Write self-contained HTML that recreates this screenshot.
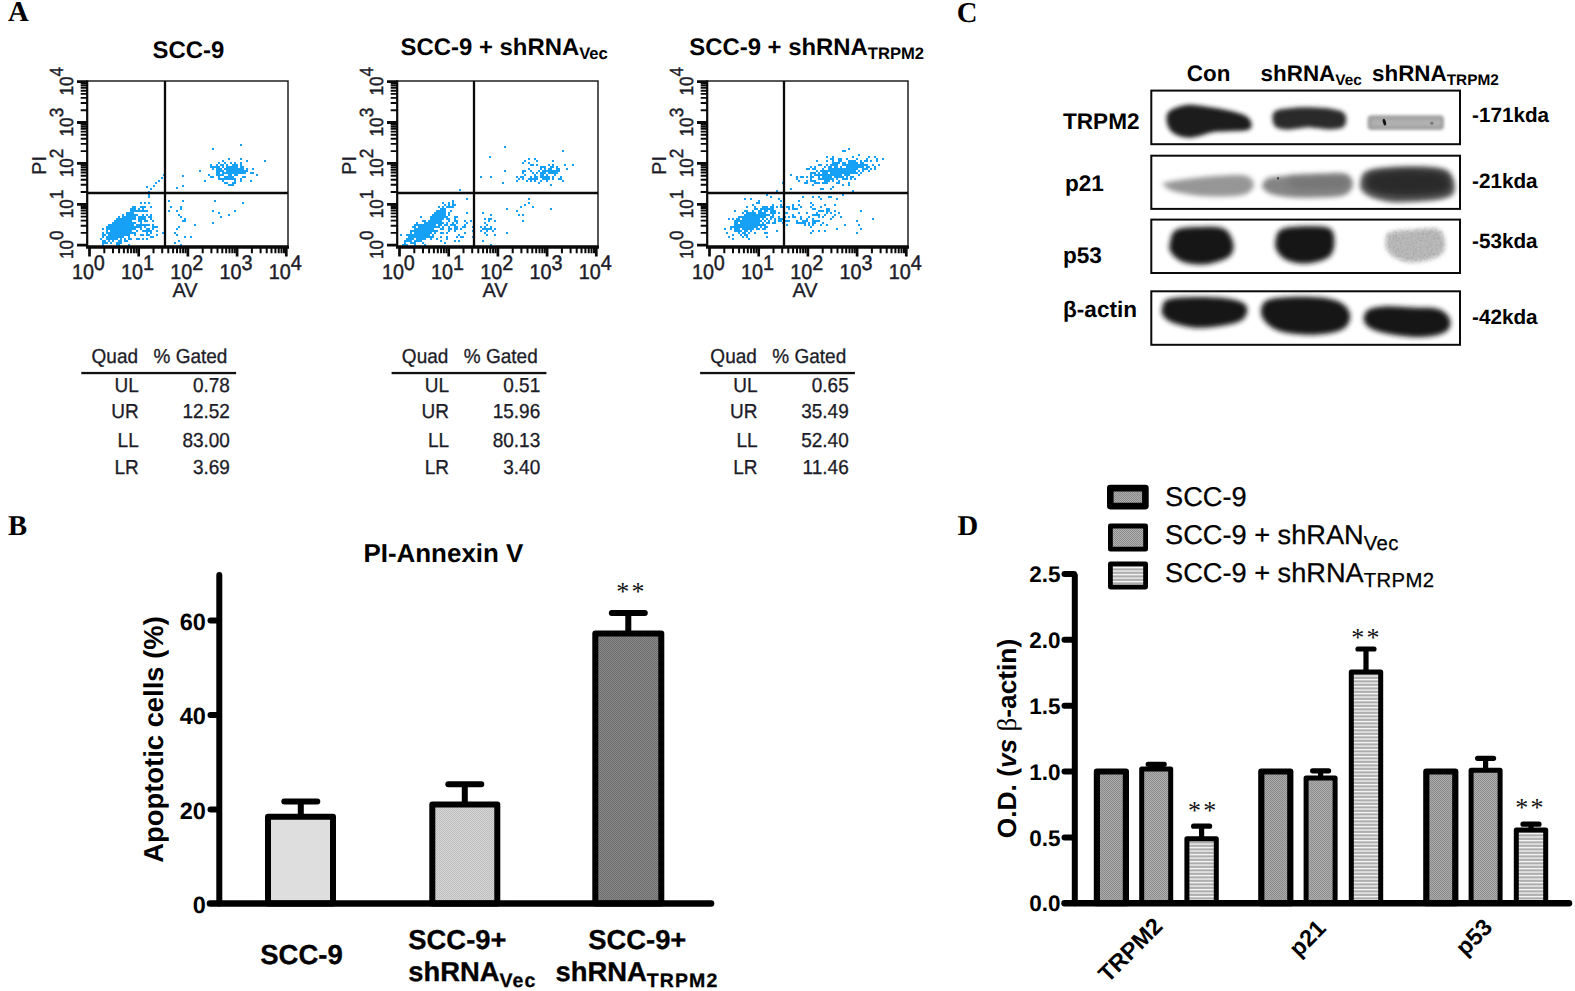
<!DOCTYPE html>
<html lang="en"><head><meta charset="utf-8"><title>Figure</title>
<style>html,body{margin:0;padding:0;background:#fff}svg{display:block}</style></head>
<body>
<svg width="1575" height="991" viewBox="0 0 1575 991" text-rendering="geometricPrecision">
<rect width="1575" height="991" fill="#fff"/>
<defs>
<pattern id="pDotL" width="2" height="2" patternUnits="userSpaceOnUse"><rect width="2" height="2" fill="#d8d8d8"/><rect width="1" height="1" fill="#bcbcbc"/><rect x="1" y="1" width="1" height="1" fill="#bcbcbc"/></pattern>
<pattern id="pDotD" width="2" height="2" patternUnits="userSpaceOnUse"><rect width="2" height="2" fill="#8a8a8a"/><rect width="1" height="1" fill="#6c6c6c"/><rect x="1" y="1" width="1" height="1" fill="#6c6c6c"/></pattern>
<pattern id="pDotM" width="2" height="2" patternUnits="userSpaceOnUse"><rect width="2" height="2" fill="#adadad"/><rect width="1" height="1" fill="#888"/><rect x="1" y="1" width="1" height="1" fill="#888"/></pattern>
<pattern id="pDotM2" width="2" height="2" patternUnits="userSpaceOnUse"><rect width="2" height="2" fill="#b0b0b0"/><rect width="1" height="1" fill="#8c8c8c"/><rect x="1" y="1" width="1" height="1" fill="#8c8c8c"/></pattern>
<pattern id="pHor" width="4" height="3.5" patternUnits="userSpaceOnUse"><rect width="4" height="3.5" fill="#b8b8b8"/><rect width="4" height="1.2" fill="#f6f6f6"/><rect y="2.1" width="4" height="0.6" fill="#9c9c9c"/></pattern>
<filter id="bd" x="-2%" y="-2%" width="104%" height="104%"><feGaussianBlur stdDeviation="0.4"/></filter>
<filter id="b05" x="-50%" y="-50%" width="200%" height="200%"><feGaussianBlur stdDeviation="0.7"/></filter>
<filter id="b15" x="-20%" y="-40%" width="140%" height="180%"><feGaussianBlur stdDeviation="2"/></filter>
<filter id="b2n" x="-20%" y="-40%" width="140%" height="180%"><feGaussianBlur stdDeviation="2.2" result="bl"/><feTurbulence type="fractalNoise" baseFrequency="0.45" numOctaves="2" seed="3" result="n"/><feColorMatrix in="n" type="matrix" values="0 0 0 0 0  0 0 0 0 0  0 0 0 0 0  1.6 0 0 0 -0.55" result="na"/><feComposite in="na" in2="bl" operator="in" result="spk"/><feFlood flood-color="#a2a2a2"/><feComposite in2="spk" operator="in" result="dk"/><feMerge><feMergeNode in="bl"/><feMergeNode in="dk"/></feMerge></filter>
<filter id="b1" x="-20%" y="-40%" width="140%" height="180%"><feGaussianBlur stdDeviation="1.6"/></filter>
<filter id="b2" x="-20%" y="-40%" width="140%" height="180%"><feGaussianBlur stdDeviation="2.6"/></filter>
<filter id="b3" x="-20%" y="-40%" width="140%" height="180%"><feGaussianBlur stdDeviation="3.6"/></filter>
</defs>
<text x="7.9" y="21.2" font-family='"Liberation Serif", "Times New Roman", serif' font-weight="bold" font-size="28.7" fill="#000">A</text>
<text x="7.9" y="535.0" font-family='"Liberation Serif", "Times New Roman", serif' font-weight="bold" font-size="28.7" fill="#000">B</text>
<text x="956.8" y="21.8" font-family='"Liberation Serif", "Times New Roman", serif' font-weight="bold" font-size="28.7" fill="#000">C</text>
<text x="957.5" y="535.0" font-family='"Liberation Serif", "Times New Roman", serif' font-weight="bold" font-size="28.7" fill="#000">D</text>
<path d="M116 224h2v2h-2zM130 224h2v2h-2zM126 220h2v2h-2zM114 230h2v2h-2zM120 234h2v2h-2zM112 226h2v2h-2zM118 220h2v2h-2zM120 232h2v2h-2zM120 218h2v2h-2zM106 238h2v2h-2zM130 220h2v2h-2zM114 224h2v2h-2zM122 224h2v2h-2zM118 228h2v2h-2zM118 222h2v2h-2zM122 220h2v2h-2zM122 234h2v2h-2zM120 220h2v2h-2zM116 236h2v2h-2zM108 236h2v2h-2zM124 228h2v2h-2zM116 232h2v2h-2zM110 242h2v2h-2zM110 228h2v2h-2zM118 234h2v2h-2zM112 234h2v2h-2zM110 236h2v2h-2zM128 228h2v2h-2zM118 230h2v2h-2zM114 232h2v2h-2zM120 224h2v2h-2zM122 222h2v2h-2zM126 224h2v2h-2zM116 228h2v2h-2zM122 228h2v2h-2zM120 226h2v2h-2zM106 228h2v2h-2zM116 234h2v2h-2zM112 232h2v2h-2zM104 234h2v2h-2zM124 234h2v2h-2zM126 230h2v2h-2zM118 236h2v2h-2zM128 220h2v2h-2zM118 216h2v2h-2zM116 242h2v2h-2zM128 232h2v2h-2zM120 222h2v2h-2zM108 238h2v2h-2zM124 230h2v2h-2zM114 226h2v2h-2zM114 228h2v2h-2zM124 220h2v2h-2zM126 228h2v2h-2zM136 224h2v2h-2zM110 238h2v2h-2zM122 232h2v2h-2zM108 228h2v2h-2zM128 222h2v2h-2zM114 238h2v2h-2zM124 216h2v2h-2zM128 212h2v2h-2zM106 236h2v2h-2zM112 230h2v2h-2zM112 222h2v2h-2zM122 226h2v2h-2zM116 220h2v2h-2zM108 234h2v2h-2zM130 222h2v2h-2zM124 226h2v2h-2zM134 218h2v2h-2zM118 232h2v2h-2zM122 214h2v2h-2zM138 216h2v2h-2zM112 228h2v2h-2zM118 224h2v2h-2zM126 222h2v2h-2zM122 218h2v2h-2zM104 240h2v2h-2zM124 224h2v2h-2zM110 226h2v2h-2zM120 230h2v2h-2zM112 236h2v2h-2zM108 240h2v2h-2zM132 218h2v2h-2zM124 232h2v2h-2zM116 226h2v2h-2zM124 222h2v2h-2zM122 230h2v2h-2zM112 238h2v2h-2zM130 228h2v2h-2zM108 224h2v2h-2zM116 238h2v2h-2zM124 218h2v2h-2zM120 228h2v2h-2zM114 236h2v2h-2zM106 232h2v2h-2zM134 222h2v2h-2zM118 218h2v2h-2zM106 230h2v2h-2zM126 232h2v2h-2zM116 230h2v2h-2zM130 232h2v2h-2zM118 226h2v2h-2zM104 242h2v2h-2zM126 226h2v2h-2zM132 222h2v2h-2zM116 218h2v2h-2zM130 218h2v2h-2zM128 230h2v2h-2zM120 236h2v2h-2zM132 216h2v2h-2zM126 216h2v2h-2zM110 234h2v2h-2zM108 232h2v2h-2zM128 224h2v2h-2zM102 232h2v2h-2zM130 226h2v2h-2zM120 238h2v2h-2zM110 224h2v2h-2zM112 240h2v2h-2zM142 208h2v2h-2zM142 216h2v2h-2zM130 230h2v2h-2zM140 218h2v2h-2zM132 228h2v2h-2zM114 234h2v2h-2zM130 214h2v2h-2zM128 226h2v2h-2zM126 218h2v2h-2zM102 244h2v2h-2zM100 238h2v2h-2zM128 218h2v2h-2zM110 232h2v2h-2zM106 242h2v2h-2zM130 216h2v2h-2zM118 242h2v2h-2zM102 240h2v2h-2zM124 240h2v2h-2zM124 238h2v2h-2zM114 220h2v2h-2zM128 214h2v2h-2zM122 236h2v2h-2zM138 220h2v2h-2zM102 228h2v2h-2zM112 224h2v2h-2zM102 236h2v2h-2zM122 216h2v2h-2zM110 230h2v2h-2zM120 242h2v2h-2zM106 226h2v2h-2zM118 240h2v2h-2zM116 222h2v2h-2zM102 234h2v2h-2zM132 224h2v2h-2zM120 240h2v2h-2zM154 226h2v2h-2zM114 222h2v2h-2zM102 242h2v2h-2zM128 244h2v2h-2zM116 244h2v2h-2zM118 244h2v2h-2zM134 226h2v2h-2zM146 220h2v2h-2zM142 218h2v2h-2zM130 238h2v2h-2zM132 226h2v2h-2zM126 240h2v2h-2zM128 236h2v2h-2zM128 238h2v2h-2zM108 226h2v2h-2zM138 218h2v2h-2zM142 214h2v2h-2zM140 220h2v2h-2zM134 228h2v2h-2zM132 232h2v2h-2zM128 234h2v2h-2zM126 234h2v2h-2zM146 214h2v2h-2zM138 210h2v2h-2zM132 210h2v2h-2zM132 212h2v2h-2zM126 212h2v2h-2zM128 216h2v2h-2zM130 210h2v2h-2zM134 216h2v2h-2zM132 214h2v2h-2zM130 208h2v2h-2zM140 216h2v2h-2zM132 206h2v2h-2zM134 214h2v2h-2zM132 208h2v2h-2zM136 210h2v2h-2zM126 214h2v2h-2zM134 210h2v2h-2zM134 208h2v2h-2zM130 212h2v2h-2zM134 206h2v2h-2zM136 214h2v2h-2zM148 228h2v2h-2zM134 234h2v2h-2zM150 232h2v2h-2zM138 224h2v2h-2zM152 224h2v2h-2zM156 230h2v2h-2zM136 226h2v2h-2zM138 226h2v2h-2zM148 230h2v2h-2zM146 224h2v2h-2zM146 228h2v2h-2zM148 234h2v2h-2zM148 224h2v2h-2zM156 226h2v2h-2zM144 226h2v2h-2zM134 232h2v2h-2zM140 226h2v2h-2zM136 238h2v2h-2zM152 236h2v2h-2zM142 230h2v2h-2zM140 222h2v2h-2zM140 228h2v2h-2zM144 230h2v2h-2zM140 224h2v2h-2zM146 230h2v2h-2zM150 218h2v2h-2zM144 224h2v2h-2zM156 234h2v2h-2zM150 236h2v2h-2zM140 234h2v2h-2zM138 238h2v2h-2zM144 220h2v2h-2zM142 238h2v2h-2zM152 228h2v2h-2zM144 218h2v2h-2zM152 220h2v2h-2zM146 238h2v2h-2zM150 230h2v2h-2zM146 234h2v2h-2zM162 232h2v2h-2zM150 216h2v2h-2zM152 226h2v2h-2zM146 232h2v2h-2zM142 234h2v2h-2zM142 224h2v2h-2zM136 230h2v2h-2zM144 202h2v2h-2zM150 206h2v2h-2zM138 208h2v2h-2zM142 206h2v2h-2zM150 214h2v2h-2zM146 186h2v2h-2zM146 210h2v2h-2zM148 216h2v2h-2zM142 210h2v2h-2zM148 196h2v2h-2zM144 206h2v2h-2zM144 210h2v2h-2zM148 194h2v2h-2zM140 206h2v2h-2zM144 216h2v2h-2zM148 202h2v2h-2zM140 210h2v2h-2zM140 202h2v2h-2zM148 191h2v2h-2zM150 188h2v2h-2zM153 185h2v2h-2zM155 182h2v2h-2zM158 180h2v2h-2zM161 177h2v2h-2zM163 174h2v2h-2zM182 200h2v2h-2zM184 220h2v2h-2zM182 220h2v2h-2zM174 232h2v2h-2zM168 210h2v2h-2zM190 236h2v2h-2zM180 244h2v2h-2zM184 236h2v2h-2zM178 214h2v2h-2zM164 238h2v2h-2zM170 206h2v2h-2zM194 224h2v2h-2zM174 242h2v2h-2zM178 226h2v2h-2zM168 200h2v2h-2zM176 234h2v2h-2zM178 240h2v2h-2zM180 216h2v2h-2zM180 206h2v2h-2zM176 210h2v2h-2zM176 228h2v2h-2zM184 218h2v2h-2zM180 208h2v2h-2zM242 202h2v2h-2zM220 216h2v2h-2zM234 210h2v2h-2zM218 212h2v2h-2zM228 214h2v2h-2zM212 210h2v2h-2zM214 200h2v2h-2zM226 182h2v2h-2zM212 222h2v2h-2zM234 172h2v2h-2zM228 168h2v2h-2zM222 166h2v2h-2zM232 170h2v2h-2zM222 180h2v2h-2zM230 170h2v2h-2zM242 170h2v2h-2zM210 164h2v2h-2zM234 178h2v2h-2zM234 164h2v2h-2zM222 172h2v2h-2zM234 166h2v2h-2zM226 170h2v2h-2zM242 166h2v2h-2zM218 172h2v2h-2zM236 166h2v2h-2zM228 172h2v2h-2zM220 174h2v2h-2zM228 174h2v2h-2zM238 170h2v2h-2zM216 166h2v2h-2zM228 176h2v2h-2zM226 178h2v2h-2zM246 170h2v2h-2zM220 164h2v2h-2zM240 166h2v2h-2zM214 166h2v2h-2zM230 174h2v2h-2zM234 170h2v2h-2zM224 182h2v2h-2zM212 176h2v2h-2zM216 170h2v2h-2zM244 176h2v2h-2zM234 180h2v2h-2zM222 178h2v2h-2zM222 160h2v2h-2zM218 166h2v2h-2zM242 176h2v2h-2zM250 180h2v2h-2zM232 166h2v2h-2zM240 178h2v2h-2zM250 172h2v2h-2zM208 174h2v2h-2zM236 172h2v2h-2zM236 168h2v2h-2zM224 162h2v2h-2zM234 174h2v2h-2zM224 176h2v2h-2zM230 162h2v2h-2zM216 168h2v2h-2zM238 172h2v2h-2zM224 168h2v2h-2zM246 168h2v2h-2zM236 164h2v2h-2zM228 178h2v2h-2zM220 168h2v2h-2zM240 158h2v2h-2zM216 172h2v2h-2zM230 172h2v2h-2zM238 168h2v2h-2zM226 172h2v2h-2zM240 172h2v2h-2zM224 172h2v2h-2zM204 180h2v2h-2zM218 162h2v2h-2zM230 178h2v2h-2zM244 170h2v2h-2zM218 168h2v2h-2zM252 172h2v2h-2zM234 182h2v2h-2zM228 170h2v2h-2zM236 174h2v2h-2zM240 170h2v2h-2zM242 168h2v2h-2zM226 164h2v2h-2zM230 166h2v2h-2zM212 166h2v2h-2zM230 168h2v2h-2zM244 172h2v2h-2zM212 168h2v2h-2zM224 178h2v2h-2zM218 170h2v2h-2zM226 168h2v2h-2zM232 176h2v2h-2zM218 178h2v2h-2zM232 164h2v2h-2zM220 178h2v2h-2zM228 166h2v2h-2zM240 168h2v2h-2zM222 174h2v2h-2zM236 170h2v2h-2zM240 162h2v2h-2zM230 184h2v2h-2zM226 176h2v2h-2zM232 182h2v2h-2zM234 168h2v2h-2zM220 170h2v2h-2zM234 162h2v2h-2zM232 172h2v2h-2zM256 174h2v2h-2zM222 164h2v2h-2zM216 164h2v2h-2zM216 174h2v2h-2zM232 168h2v2h-2zM232 178h2v2h-2zM232 184h2v2h-2zM222 170h2v2h-2zM240 180h2v2h-2zM226 166h2v2h-2zM230 176h2v2h-2zM264 160h2v2h-2zM210 166h2v2h-2zM228 158h2v2h-2zM246 160h2v2h-2zM218 176h2v2h-2zM240 164h2v2h-2zM218 174h2v2h-2zM210 176h2v2h-2zM252 168h2v2h-2zM242 172h2v2h-2zM228 184h2v2h-2zM212 148h2v2h-2zM240 144h2v2h-2zM199 170h2v2h-2zM182 175h2v2h-2zM182 185h2v2h-2zM176 187h2v2h-2z" fill="#12a0f6" filter="url(#bd)"/>
<rect x="87" y="81" width="201" height="165" fill="none" stroke="#111" stroke-width="1.4"/>
<path d="M87.3 80.5V247" stroke="#0a0a0a" stroke-width="2" fill="none"/>
<path d="M86 247.2H289" stroke="#0a0a0a" stroke-width="2.9" fill="none"/>
<path d="M165 81V246M87 193H288" stroke="#0a0a0a" stroke-width="2.3" fill="none"/>
<path d="M89.5 246V256.5M138.7 246V256.5M187.9 246V256.5M237.1 246V256.5M286.3 246V256.5" stroke="#0a0a0a" stroke-width="2.7"/>
<path d="M104.3 246V253.3M113.0 246V253.3M119.1 246V253.3M123.9 246V253.3M127.8 246V253.3M131.1 246V253.3M133.9 246V253.3M136.4 246V253.3M153.5 246V253.3M162.2 246V253.3M168.3 246V253.3M173.1 246V253.3M177.0 246V253.3M180.3 246V253.3M183.1 246V253.3M185.6 246V253.3M202.7 246V253.3M211.4 246V253.3M217.5 246V253.3M222.3 246V253.3M226.2 246V253.3M229.5 246V253.3M232.3 246V253.3M234.8 246V253.3M251.9 246V253.3M260.6 246V253.3M266.7 246V253.3M271.5 246V253.3M275.4 246V253.3M278.7 246V253.3M281.5 246V253.3M284.0 246V253.3" stroke="#0a0a0a" stroke-width="2"/>
<path d="M77 245.2H87M77 204.3H87M77 163.4H87M77 122.5H87M77 81.6H87" stroke="#0a0a0a" stroke-width="2.8"/>
<path d="M80.7 232.9H87M80.7 225.7H87M80.7 220.6H87M80.7 216.6H87M80.7 213.4H87M80.7 210.6H87M80.7 208.3H87M80.7 206.2H87M80.7 192.0H87M80.7 184.8H87M80.7 179.7H87M80.7 175.7H87M80.7 172.5H87M80.7 169.7H87M80.7 167.4H87M80.7 165.3H87M80.7 151.1H87M80.7 143.9H87M80.7 138.8H87M80.7 134.8H87M80.7 131.6H87M80.7 128.8H87M80.7 126.5H87M80.7 124.4H87M80.7 110.2H87M80.7 103.0H87M80.7 97.9H87M80.7 93.9H87M80.7 90.7H87M80.7 87.9H87M80.7 85.6H87M80.7 83.5H87" stroke="#0a0a0a" stroke-width="1.9"/>
<text transform="translate(71.9 279.2) scale(0.94 1)" font-family='"Liberation Sans", Arial, Helvetica, sans-serif' font-size="21" fill="#1c1c28" stroke="#1c1c28" stroke-width="0.45">10<tspan dy="-8.9">0</tspan></text>
<text transform="translate(73 259.1) rotate(-90) scale(0.9 1)" font-family='"Liberation Sans", Arial, Helvetica, sans-serif' font-size="19" fill="#1c1c28" stroke="#1c1c28" stroke-width="0.45">10<tspan dy="-9.7">0</tspan></text>
<text transform="translate(121.1 279.2) scale(0.94 1)" font-family='"Liberation Sans", Arial, Helvetica, sans-serif' font-size="21" fill="#1c1c28" stroke="#1c1c28" stroke-width="0.45">10<tspan dy="-8.9">1</tspan></text>
<text transform="translate(73 218.2) rotate(-90) scale(0.9 1)" font-family='"Liberation Sans", Arial, Helvetica, sans-serif' font-size="19" fill="#1c1c28" stroke="#1c1c28" stroke-width="0.45">10<tspan dy="-9.7">1</tspan></text>
<text transform="translate(170.3 279.2) scale(0.94 1)" font-family='"Liberation Sans", Arial, Helvetica, sans-serif' font-size="21" fill="#1c1c28" stroke="#1c1c28" stroke-width="0.45">10<tspan dy="-8.9">2</tspan></text>
<text transform="translate(73 177.3) rotate(-90) scale(0.9 1)" font-family='"Liberation Sans", Arial, Helvetica, sans-serif' font-size="19" fill="#1c1c28" stroke="#1c1c28" stroke-width="0.45">10<tspan dy="-9.7">2</tspan></text>
<text transform="translate(219.5 279.2) scale(0.94 1)" font-family='"Liberation Sans", Arial, Helvetica, sans-serif' font-size="21" fill="#1c1c28" stroke="#1c1c28" stroke-width="0.45">10<tspan dy="-8.9">3</tspan></text>
<text transform="translate(73 136.4) rotate(-90) scale(0.9 1)" font-family='"Liberation Sans", Arial, Helvetica, sans-serif' font-size="19" fill="#1c1c28" stroke="#1c1c28" stroke-width="0.45">10<tspan dy="-9.7">3</tspan></text>
<text transform="translate(268.7 279.2) scale(0.94 1)" font-family='"Liberation Sans", Arial, Helvetica, sans-serif' font-size="21" fill="#1c1c28" stroke="#1c1c28" stroke-width="0.45">10<tspan dy="-8.9">4</tspan></text>
<text transform="translate(73 95.5) rotate(-90) scale(0.9 1)" font-family='"Liberation Sans", Arial, Helvetica, sans-serif' font-size="19" fill="#1c1c28" stroke="#1c1c28" stroke-width="0.45">10<tspan dy="-9.7">4</tspan></text>
<text x="185" y="296.5" text-anchor="middle" font-family='"Liberation Sans", Arial, Helvetica, sans-serif' font-size="20" fill="#1c1c28" stroke="#1c1c28" stroke-width="0.3">AV</text>
<text transform="translate(45.5 165.5) rotate(-90)" text-anchor="middle" font-family='"Liberation Sans", Arial, Helvetica, sans-serif' font-size="20" fill="#1c1c28" stroke="#1c1c28" stroke-width="0.3">PI</text>
<text x="152.5" y="58.1" font-family='"Liberation Sans", Arial, Helvetica, sans-serif' font-weight="bold" font-size="23.9" fill="#000">SCC-9</text>
<path d="M436 218h2v2h-2zM424 234h2v2h-2zM418 224h2v2h-2zM408 238h2v2h-2zM424 228h2v2h-2zM426 232h2v2h-2zM420 234h2v2h-2zM420 226h2v2h-2zM430 226h2v2h-2zM420 232h2v2h-2zM414 232h2v2h-2zM428 220h2v2h-2zM426 236h2v2h-2zM438 222h2v2h-2zM420 224h2v2h-2zM416 224h2v2h-2zM424 230h2v2h-2zM418 232h2v2h-2zM422 228h2v2h-2zM418 234h2v2h-2zM418 230h2v2h-2zM430 238h2v2h-2zM428 234h2v2h-2zM426 228h2v2h-2zM430 236h2v2h-2zM422 238h2v2h-2zM436 238h2v2h-2zM406 238h2v2h-2zM422 226h2v2h-2zM450 228h2v2h-2zM408 236h2v2h-2zM432 226h2v2h-2zM406 234h2v2h-2zM434 226h2v2h-2zM432 224h2v2h-2zM412 236h2v2h-2zM422 232h2v2h-2zM426 230h2v2h-2zM424 232h2v2h-2zM404 244h2v2h-2zM426 222h2v2h-2zM414 228h2v2h-2zM420 236h2v2h-2zM416 230h2v2h-2zM422 234h2v2h-2zM414 224h2v2h-2zM414 236h2v2h-2zM426 224h2v2h-2zM420 238h2v2h-2zM418 228h2v2h-2zM416 232h2v2h-2zM422 220h2v2h-2zM432 228h2v2h-2zM412 230h2v2h-2zM406 244h2v2h-2zM408 234h2v2h-2zM424 226h2v2h-2zM412 234h2v2h-2zM432 230h2v2h-2zM420 216h2v2h-2zM426 234h2v2h-2zM410 236h2v2h-2zM402 244h2v2h-2zM418 240h2v2h-2zM428 236h2v2h-2zM434 224h2v2h-2zM430 228h2v2h-2zM418 236h2v2h-2zM412 238h2v2h-2zM414 230h2v2h-2zM442 218h2v2h-2zM436 222h2v2h-2zM418 226h2v2h-2zM420 230h2v2h-2zM414 240h2v2h-2zM416 234h2v2h-2zM430 230h2v2h-2zM406 240h2v2h-2zM420 228h2v2h-2zM410 234h2v2h-2zM428 224h2v2h-2zM410 238h2v2h-2zM414 242h2v2h-2zM438 226h2v2h-2zM428 232h2v2h-2zM416 228h2v2h-2zM420 240h2v2h-2zM430 224h2v2h-2zM412 226h2v2h-2zM436 230h2v2h-2zM424 236h2v2h-2zM410 242h2v2h-2zM432 236h2v2h-2zM428 226h2v2h-2zM422 242h2v2h-2zM434 232h2v2h-2zM432 234h2v2h-2zM430 232h2v2h-2zM410 240h2v2h-2zM422 230h2v2h-2zM416 240h2v2h-2zM410 230h2v2h-2zM414 234h2v2h-2zM430 220h2v2h-2zM416 222h2v2h-2zM404 240h2v2h-2zM416 238h2v2h-2zM432 218h2v2h-2zM410 232h2v2h-2zM426 226h2v2h-2zM414 244h2v2h-2zM424 244h2v2h-2zM424 238h2v2h-2zM422 224h2v2h-2zM428 230h2v2h-2zM430 222h2v2h-2zM418 238h2v2h-2zM440 224h2v2h-2zM404 242h2v2h-2zM424 224h2v2h-2zM412 242h2v2h-2zM434 230h2v2h-2zM438 216h2v2h-2zM424 222h2v2h-2zM422 236h2v2h-2zM438 224h2v2h-2zM400 234h2v2h-2zM440 228h2v2h-2zM416 236h2v2h-2zM442 222h2v2h-2zM408 240h2v2h-2zM436 226h2v2h-2zM428 228h2v2h-2zM414 226h2v2h-2zM440 216h2v2h-2zM448 212h2v2h-2zM440 214h2v2h-2zM442 212h2v2h-2zM442 210h2v2h-2zM438 214h2v2h-2zM434 220h2v2h-2zM432 220h2v2h-2zM438 220h2v2h-2zM450 210h2v2h-2zM432 214h2v2h-2zM448 202h2v2h-2zM438 218h2v2h-2zM430 216h2v2h-2zM444 204h2v2h-2zM442 208h2v2h-2zM446 206h2v2h-2zM442 206h2v2h-2zM444 208h2v2h-2zM446 218h2v2h-2zM434 216h2v2h-2zM442 216h2v2h-2zM428 222h2v2h-2zM436 210h2v2h-2zM442 214h2v2h-2zM448 218h2v2h-2zM434 218h2v2h-2zM440 212h2v2h-2zM438 206h2v2h-2zM452 200h2v2h-2zM444 212h2v2h-2zM440 218h2v2h-2zM434 214h2v2h-2zM436 214h2v2h-2zM432 222h2v2h-2zM430 218h2v2h-2zM434 212h2v2h-2zM434 222h2v2h-2zM438 212h2v2h-2zM436 216h2v2h-2zM444 216h2v2h-2zM436 212h2v2h-2zM440 222h2v2h-2zM440 220h2v2h-2zM440 210h2v2h-2zM448 204h2v2h-2zM436 220h2v2h-2zM452 206h2v2h-2zM438 210h2v2h-2zM452 202h2v2h-2zM424 220h2v2h-2zM440 208h2v2h-2zM446 216h2v2h-2zM454 204h2v2h-2zM432 216h2v2h-2zM444 214h2v2h-2zM448 206h2v2h-2zM448 214h2v2h-2zM444 210h2v2h-2zM452 204h2v2h-2zM442 202h2v2h-2zM450 206h2v2h-2zM444 242h2v2h-2zM454 218h2v2h-2zM450 224h2v2h-2zM440 232h2v2h-2zM446 232h2v2h-2zM456 228h2v2h-2zM456 236h2v2h-2zM446 224h2v2h-2zM454 226h2v2h-2zM470 220h2v2h-2zM454 230h2v2h-2zM472 236h2v2h-2zM456 220h2v2h-2zM466 212h2v2h-2zM464 224h2v2h-2zM454 240h2v2h-2zM448 228h2v2h-2zM464 232h2v2h-2zM456 216h2v2h-2zM464 226h2v2h-2zM454 228h2v2h-2zM446 222h2v2h-2zM448 220h2v2h-2zM444 224h2v2h-2zM442 226h2v2h-2zM464 220h2v2h-2zM446 238h2v2h-2zM462 226h2v2h-2zM456 222h2v2h-2zM454 216h2v2h-2zM440 236h2v2h-2zM440 240h2v2h-2zM460 228h2v2h-2zM448 226h2v2h-2zM448 230h2v2h-2zM442 228h2v2h-2zM472 226h2v2h-2zM458 240h2v2h-2zM462 236h2v2h-2zM454 220h2v2h-2zM466 198h2v2h-2zM452 224h2v2h-2zM442 232h2v2h-2zM452 222h2v2h-2zM466 222h2v2h-2zM458 234h2v2h-2zM456 226h2v2h-2zM454 224h2v2h-2zM460 236h2v2h-2zM446 236h2v2h-2zM472 230h2v2h-2zM484 226h2v2h-2zM482 228h2v2h-2zM490 228h2v2h-2zM486 228h2v2h-2zM480 226h2v2h-2zM482 212h2v2h-2zM494 220h2v2h-2zM492 230h2v2h-2zM484 228h2v2h-2zM488 220h2v2h-2zM484 222h2v2h-2zM480 230h2v2h-2zM490 218h2v2h-2zM486 234h2v2h-2zM488 228h2v2h-2zM490 214h2v2h-2zM490 244h2v2h-2zM490 226h2v2h-2zM484 218h2v2h-2zM486 230h2v2h-2zM484 232h2v2h-2zM482 240h2v2h-2zM494 234h2v2h-2zM486 224h2v2h-2zM494 228h2v2h-2zM520 206h2v2h-2zM522 214h2v2h-2zM524 204h2v2h-2zM506 232h2v2h-2zM516 210h2v2h-2zM518 214h2v2h-2zM522 220h2v2h-2zM506 208h2v2h-2zM488 218h2v2h-2zM528 202h2v2h-2zM528 198h2v2h-2zM546 180h2v2h-2zM532 206h2v2h-2zM550 208h2v2h-2zM534 178h2v2h-2zM548 168h2v2h-2zM546 176h2v2h-2zM530 180h2v2h-2zM556 172h2v2h-2zM544 170h2v2h-2zM558 168h2v2h-2zM554 172h2v2h-2zM540 174h2v2h-2zM544 172h2v2h-2zM536 176h2v2h-2zM536 178h2v2h-2zM542 178h2v2h-2zM548 170h2v2h-2zM556 170h2v2h-2zM532 164h2v2h-2zM550 170h2v2h-2zM544 176h2v2h-2zM554 170h2v2h-2zM540 172h2v2h-2zM556 168h2v2h-2zM534 176h2v2h-2zM550 168h2v2h-2zM528 168h2v2h-2zM532 178h2v2h-2zM542 174h2v2h-2zM542 170h2v2h-2zM540 168h2v2h-2zM524 174h2v2h-2zM530 170h2v2h-2zM548 172h2v2h-2zM532 172h2v2h-2zM546 170h2v2h-2zM544 166h2v2h-2zM552 164h2v2h-2zM538 182h2v2h-2zM556 166h2v2h-2zM540 176h2v2h-2zM560 178h2v2h-2zM552 170h2v2h-2zM548 178h2v2h-2zM554 174h2v2h-2zM530 176h2v2h-2zM540 180h2v2h-2zM550 172h2v2h-2zM534 174h2v2h-2zM534 180h2v2h-2zM518 178h2v2h-2zM558 178h2v2h-2zM552 176h2v2h-2zM528 178h2v2h-2zM558 170h2v2h-2zM546 174h2v2h-2zM552 172h2v2h-2zM542 176h2v2h-2zM560 176h2v2h-2zM542 166h2v2h-2zM544 168h2v2h-2zM544 178h2v2h-2zM552 166h2v2h-2zM548 176h2v2h-2zM522 172h2v2h-2zM542 172h2v2h-2zM536 172h2v2h-2zM536 160h2v2h-2zM504 170h2v2h-2zM520 176h2v2h-2zM502 182h2v2h-2zM528 162h2v2h-2zM546 178h2v2h-2zM572 164h2v2h-2zM524 160h2v2h-2zM536 164h2v2h-2zM528 158h2v2h-2zM490 176h2v2h-2zM524 170h2v2h-2zM522 162h2v2h-2zM540 166h2v2h-2zM516 180h2v2h-2zM550 184h2v2h-2zM534 158h2v2h-2zM522 178h2v2h-2zM526 180h2v2h-2zM530 164h2v2h-2zM552 178h2v2h-2zM562 180h2v2h-2zM538 170h2v2h-2zM552 160h2v2h-2zM522 176h2v2h-2zM550 166h2v2h-2zM516 176h2v2h-2zM530 178h2v2h-2zM522 170h2v2h-2zM564 164h2v2h-2zM562 150h2v2h-2zM548 164h2v2h-2zM566 168h2v2h-2zM504 146h2v2h-2zM489 156h2v2h-2zM480 176h2v2h-2zM473 178h2v2h-2zM459 189h2v2h-2z" fill="#12a0f6" filter="url(#bd)"/>
<rect x="397" y="81" width="201" height="165" fill="none" stroke="#111" stroke-width="1.4"/>
<path d="M397.3 80.5V247" stroke="#0a0a0a" stroke-width="2" fill="none"/>
<path d="M396 247.2H599" stroke="#0a0a0a" stroke-width="2.9" fill="none"/>
<path d="M474 81V246M397 193H598" stroke="#0a0a0a" stroke-width="2.3" fill="none"/>
<path d="M399.5 246V256.5M448.7 246V256.5M497.9 246V256.5M547.1 246V256.5M596.3 246V256.5" stroke="#0a0a0a" stroke-width="2.7"/>
<path d="M414.3 246V253.3M423.0 246V253.3M429.1 246V253.3M433.9 246V253.3M437.8 246V253.3M441.1 246V253.3M443.9 246V253.3M446.4 246V253.3M463.5 246V253.3M472.2 246V253.3M478.3 246V253.3M483.1 246V253.3M487.0 246V253.3M490.3 246V253.3M493.1 246V253.3M495.6 246V253.3M512.7 246V253.3M521.4 246V253.3M527.5 246V253.3M532.3 246V253.3M536.2 246V253.3M539.5 246V253.3M542.3 246V253.3M544.8 246V253.3M561.9 246V253.3M570.6 246V253.3M576.7 246V253.3M581.5 246V253.3M585.4 246V253.3M588.7 246V253.3M591.5 246V253.3M594.0 246V253.3" stroke="#0a0a0a" stroke-width="2"/>
<path d="M387 245.2H397M387 204.3H397M387 163.4H397M387 122.5H397M387 81.6H397" stroke="#0a0a0a" stroke-width="2.8"/>
<path d="M390.7 232.9H397M390.7 225.7H397M390.7 220.6H397M390.7 216.6H397M390.7 213.4H397M390.7 210.6H397M390.7 208.3H397M390.7 206.2H397M390.7 192.0H397M390.7 184.8H397M390.7 179.7H397M390.7 175.7H397M390.7 172.5H397M390.7 169.7H397M390.7 167.4H397M390.7 165.3H397M390.7 151.1H397M390.7 143.9H397M390.7 138.8H397M390.7 134.8H397M390.7 131.6H397M390.7 128.8H397M390.7 126.5H397M390.7 124.4H397M390.7 110.2H397M390.7 103.0H397M390.7 97.9H397M390.7 93.9H397M390.7 90.7H397M390.7 87.9H397M390.7 85.6H397M390.7 83.5H397" stroke="#0a0a0a" stroke-width="1.9"/>
<text transform="translate(381.9 279.2) scale(0.94 1)" font-family='"Liberation Sans", Arial, Helvetica, sans-serif' font-size="21" fill="#1c1c28" stroke="#1c1c28" stroke-width="0.45">10<tspan dy="-8.9">0</tspan></text>
<text transform="translate(383 259.1) rotate(-90) scale(0.9 1)" font-family='"Liberation Sans", Arial, Helvetica, sans-serif' font-size="19" fill="#1c1c28" stroke="#1c1c28" stroke-width="0.45">10<tspan dy="-9.7">0</tspan></text>
<text transform="translate(431.1 279.2) scale(0.94 1)" font-family='"Liberation Sans", Arial, Helvetica, sans-serif' font-size="21" fill="#1c1c28" stroke="#1c1c28" stroke-width="0.45">10<tspan dy="-8.9">1</tspan></text>
<text transform="translate(383 218.2) rotate(-90) scale(0.9 1)" font-family='"Liberation Sans", Arial, Helvetica, sans-serif' font-size="19" fill="#1c1c28" stroke="#1c1c28" stroke-width="0.45">10<tspan dy="-9.7">1</tspan></text>
<text transform="translate(480.3 279.2) scale(0.94 1)" font-family='"Liberation Sans", Arial, Helvetica, sans-serif' font-size="21" fill="#1c1c28" stroke="#1c1c28" stroke-width="0.45">10<tspan dy="-8.9">2</tspan></text>
<text transform="translate(383 177.3) rotate(-90) scale(0.9 1)" font-family='"Liberation Sans", Arial, Helvetica, sans-serif' font-size="19" fill="#1c1c28" stroke="#1c1c28" stroke-width="0.45">10<tspan dy="-9.7">2</tspan></text>
<text transform="translate(529.5 279.2) scale(0.94 1)" font-family='"Liberation Sans", Arial, Helvetica, sans-serif' font-size="21" fill="#1c1c28" stroke="#1c1c28" stroke-width="0.45">10<tspan dy="-8.9">3</tspan></text>
<text transform="translate(383 136.4) rotate(-90) scale(0.9 1)" font-family='"Liberation Sans", Arial, Helvetica, sans-serif' font-size="19" fill="#1c1c28" stroke="#1c1c28" stroke-width="0.45">10<tspan dy="-9.7">3</tspan></text>
<text transform="translate(578.7 279.2) scale(0.94 1)" font-family='"Liberation Sans", Arial, Helvetica, sans-serif' font-size="21" fill="#1c1c28" stroke="#1c1c28" stroke-width="0.45">10<tspan dy="-8.9">4</tspan></text>
<text transform="translate(383 95.5) rotate(-90) scale(0.9 1)" font-family='"Liberation Sans", Arial, Helvetica, sans-serif' font-size="19" fill="#1c1c28" stroke="#1c1c28" stroke-width="0.45">10<tspan dy="-9.7">4</tspan></text>
<text x="495" y="296.5" text-anchor="middle" font-family='"Liberation Sans", Arial, Helvetica, sans-serif' font-size="20" fill="#1c1c28" stroke="#1c1c28" stroke-width="0.3">AV</text>
<text transform="translate(355.5 165.5) rotate(-90)" text-anchor="middle" font-family='"Liberation Sans", Arial, Helvetica, sans-serif' font-size="20" fill="#1c1c28" stroke="#1c1c28" stroke-width="0.3">PI</text>
<text x="400.6" y="55.2" font-family='"Liberation Sans", Arial, Helvetica, sans-serif' font-weight="bold" font-size="23.9" fill="#000">SCC-9 + shRNA<tspan dy="3.5" font-size="16.6">Vec</tspan></text>
<path d="M760 212h2v2h-2zM734 224h2v2h-2zM744 226h2v2h-2zM742 222h2v2h-2zM750 220h2v2h-2zM746 218h2v2h-2zM734 222h2v2h-2zM732 226h2v2h-2zM748 218h2v2h-2zM758 212h2v2h-2zM760 216h2v2h-2zM746 222h2v2h-2zM752 218h2v2h-2zM740 220h2v2h-2zM754 208h2v2h-2zM756 222h2v2h-2zM748 228h2v2h-2zM756 218h2v2h-2zM754 226h2v2h-2zM744 218h2v2h-2zM750 216h2v2h-2zM750 224h2v2h-2zM744 222h2v2h-2zM752 210h2v2h-2zM744 220h2v2h-2zM738 226h2v2h-2zM762 214h2v2h-2zM758 214h2v2h-2zM748 222h2v2h-2zM752 224h2v2h-2zM736 222h2v2h-2zM752 220h2v2h-2zM750 226h2v2h-2zM746 228h2v2h-2zM740 230h2v2h-2zM754 212h2v2h-2zM744 228h2v2h-2zM754 216h2v2h-2zM744 224h2v2h-2zM736 224h2v2h-2zM746 216h2v2h-2zM756 220h2v2h-2zM738 230h2v2h-2zM738 224h2v2h-2zM748 220h2v2h-2zM750 222h2v2h-2zM746 220h2v2h-2zM742 236h2v2h-2zM746 224h2v2h-2zM756 216h2v2h-2zM758 220h2v2h-2zM752 216h2v2h-2zM744 232h2v2h-2zM752 226h2v2h-2zM742 226h2v2h-2zM746 234h2v2h-2zM750 218h2v2h-2zM750 214h2v2h-2zM748 214h2v2h-2zM742 228h2v2h-2zM754 218h2v2h-2zM738 216h2v2h-2zM758 222h2v2h-2zM726 232h2v2h-2zM762 222h2v2h-2zM740 224h2v2h-2zM756 214h2v2h-2zM746 212h2v2h-2zM732 234h2v2h-2zM746 226h2v2h-2zM748 224h2v2h-2zM728 236h2v2h-2zM762 212h2v2h-2zM738 232h2v2h-2zM736 226h2v2h-2zM754 224h2v2h-2zM742 220h2v2h-2zM752 214h2v2h-2zM742 218h2v2h-2zM752 212h2v2h-2zM736 220h2v2h-2zM736 230h2v2h-2zM758 224h2v2h-2zM740 226h2v2h-2zM762 216h2v2h-2zM756 228h2v2h-2zM730 228h2v2h-2zM752 222h2v2h-2zM756 224h2v2h-2zM742 216h2v2h-2zM760 210h2v2h-2zM744 230h2v2h-2zM758 216h2v2h-2zM762 218h2v2h-2zM740 222h2v2h-2zM762 208h2v2h-2zM758 218h2v2h-2zM760 208h2v2h-2zM750 212h2v2h-2zM734 228h2v2h-2zM754 220h2v2h-2zM740 234h2v2h-2zM760 220h2v2h-2zM764 210h2v2h-2zM770 210h2v2h-2zM738 218h2v2h-2zM748 212h2v2h-2zM738 228h2v2h-2zM750 228h2v2h-2zM746 214h2v2h-2zM764 212h2v2h-2zM754 222h2v2h-2zM764 206h2v2h-2zM742 224h2v2h-2zM742 232h2v2h-2zM752 204h2v2h-2zM744 216h2v2h-2zM772 216h2v2h-2zM764 214h2v2h-2zM736 228h2v2h-2zM760 224h2v2h-2zM724 228h2v2h-2zM744 214h2v2h-2zM764 208h2v2h-2zM734 220h2v2h-2zM756 226h2v2h-2zM730 226h2v2h-2zM748 226h2v2h-2zM734 230h2v2h-2zM748 216h2v2h-2zM734 226h2v2h-2zM760 214h2v2h-2zM750 230h2v2h-2zM754 214h2v2h-2zM742 212h2v2h-2zM772 212h2v2h-2zM744 234h2v2h-2zM786 212h2v2h-2zM774 212h2v2h-2zM776 206h2v2h-2zM772 210h2v2h-2zM762 206h2v2h-2zM748 238h2v2h-2zM768 214h2v2h-2zM764 216h2v2h-2zM768 208h2v2h-2zM744 210h2v2h-2zM782 192h2v2h-2zM752 228h2v2h-2zM766 214h2v2h-2zM772 222h2v2h-2zM760 226h2v2h-2zM732 218h2v2h-2zM762 228h2v2h-2zM756 208h2v2h-2zM766 226h2v2h-2zM754 206h2v2h-2zM764 224h2v2h-2zM766 208h2v2h-2zM762 224h2v2h-2zM748 232h2v2h-2zM756 202h2v2h-2zM772 208h2v2h-2zM770 208h2v2h-2zM766 236h2v2h-2zM778 198h2v2h-2zM768 220h2v2h-2zM746 206h2v2h-2zM778 220h2v2h-2zM758 200h2v2h-2zM764 220h2v2h-2zM772 206h2v2h-2zM766 218h2v2h-2zM750 198h2v2h-2zM774 220h2v2h-2zM746 236h2v2h-2zM734 210h2v2h-2zM774 222h2v2h-2zM758 210h2v2h-2zM766 194h2v2h-2zM764 228h2v2h-2zM770 216h2v2h-2zM770 212h2v2h-2zM778 216h2v2h-2zM754 232h2v2h-2zM740 216h2v2h-2zM772 204h2v2h-2zM770 218h2v2h-2zM774 210h2v2h-2zM744 198h2v2h-2zM766 222h2v2h-2zM746 210h2v2h-2zM764 232h2v2h-2zM746 230h2v2h-2zM766 206h2v2h-2zM736 218h2v2h-2zM732 238h2v2h-2zM782 218h2v2h-2zM758 228h2v2h-2zM770 206h2v2h-2zM776 190h2v2h-2zM780 200h2v2h-2zM764 226h2v2h-2zM792 204h2v2h-2zM766 232h2v2h-2zM780 206h2v2h-2zM738 220h2v2h-2zM778 212h2v2h-2zM728 218h2v2h-2zM784 212h2v2h-2zM774 218h2v2h-2zM788 206h2v2h-2zM770 196h2v2h-2zM758 202h2v2h-2zM772 214h2v2h-2zM768 222h2v2h-2zM766 210h2v2h-2zM778 218h2v2h-2zM808 216h2v2h-2zM818 230h2v2h-2zM836 198h2v2h-2zM824 204h2v2h-2zM818 220h2v2h-2zM810 232h2v2h-2zM784 216h2v2h-2zM798 212h2v2h-2zM782 206h2v2h-2zM802 196h2v2h-2zM826 208h2v2h-2zM826 212h2v2h-2zM824 214h2v2h-2zM826 224h2v2h-2zM804 224h2v2h-2zM812 230h2v2h-2zM810 226h2v2h-2zM800 222h2v2h-2zM798 204h2v2h-2zM828 210h2v2h-2zM794 208h2v2h-2zM830 212h2v2h-2zM812 222h2v2h-2zM794 216h2v2h-2zM820 210h2v2h-2zM818 210h2v2h-2zM782 222h2v2h-2zM796 220h2v2h-2zM812 204h2v2h-2zM776 230h2v2h-2zM792 216h2v2h-2zM818 196h2v2h-2zM788 216h2v2h-2zM780 204h2v2h-2zM784 220h2v2h-2zM802 220h2v2h-2zM780 220h2v2h-2zM806 220h2v2h-2zM818 216h2v2h-2zM834 214h2v2h-2zM800 206h2v2h-2zM834 204h2v2h-2zM818 214h2v2h-2zM804 222h2v2h-2zM810 180h2v2h-2zM834 210h2v2h-2zM830 196h2v2h-2zM822 222h2v2h-2zM808 222h2v2h-2zM820 198h2v2h-2zM812 224h2v2h-2zM812 214h2v2h-2zM840 216h2v2h-2zM788 220h2v2h-2zM806 212h2v2h-2zM788 208h2v2h-2zM822 210h2v2h-2zM828 196h2v2h-2zM798 200h2v2h-2zM824 230h2v2h-2zM810 202h2v2h-2zM812 218h2v2h-2zM814 220h2v2h-2zM806 218h2v2h-2zM812 196h2v2h-2zM800 218h2v2h-2zM786 224h2v2h-2zM808 224h2v2h-2zM790 188h2v2h-2zM816 212h2v2h-2zM828 208h2v2h-2zM786 220h2v2h-2zM792 206h2v2h-2zM814 222h2v2h-2zM836 228h2v2h-2zM822 216h2v2h-2zM814 208h2v2h-2zM802 192h2v2h-2zM800 216h2v2h-2zM816 220h2v2h-2zM816 214h2v2h-2zM812 220h2v2h-2zM798 222h2v2h-2zM780 218h2v2h-2zM792 214h2v2h-2zM802 222h2v2h-2zM786 206h2v2h-2zM814 214h2v2h-2zM804 220h2v2h-2zM812 208h2v2h-2zM820 206h2v2h-2zM810 206h2v2h-2zM830 218h2v2h-2zM796 208h2v2h-2zM796 222h2v2h-2zM826 210h2v2h-2zM792 208h2v2h-2zM860 210h2v2h-2zM838 212h2v2h-2zM844 224h2v2h-2zM858 224h2v2h-2zM872 218h2v2h-2zM820 224h2v2h-2zM860 228h2v2h-2zM856 220h2v2h-2zM856 232h2v2h-2zM832 216h2v2h-2zM840 168h2v2h-2zM818 176h2v2h-2zM844 168h2v2h-2zM852 156h2v2h-2zM842 164h2v2h-2zM820 170h2v2h-2zM828 166h2v2h-2zM848 162h2v2h-2zM818 164h2v2h-2zM834 174h2v2h-2zM854 164h2v2h-2zM834 166h2v2h-2zM830 168h2v2h-2zM850 168h2v2h-2zM862 170h2v2h-2zM844 170h2v2h-2zM822 176h2v2h-2zM816 174h2v2h-2zM814 172h2v2h-2zM838 174h2v2h-2zM852 170h2v2h-2zM802 176h2v2h-2zM836 164h2v2h-2zM830 170h2v2h-2zM846 174h2v2h-2zM846 170h2v2h-2zM854 170h2v2h-2zM876 160h2v2h-2zM828 176h2v2h-2zM826 178h2v2h-2zM822 172h2v2h-2zM850 170h2v2h-2zM842 170h2v2h-2zM860 160h2v2h-2zM854 172h2v2h-2zM852 162h2v2h-2zM830 174h2v2h-2zM834 168h2v2h-2zM830 176h2v2h-2zM842 178h2v2h-2zM822 174h2v2h-2zM868 170h2v2h-2zM834 162h2v2h-2zM818 174h2v2h-2zM822 178h2v2h-2zM836 162h2v2h-2zM854 178h2v2h-2zM840 160h2v2h-2zM824 172h2v2h-2zM852 166h2v2h-2zM832 170h2v2h-2zM866 168h2v2h-2zM836 168h2v2h-2zM836 172h2v2h-2zM854 162h2v2h-2zM860 166h2v2h-2zM840 172h2v2h-2zM856 162h2v2h-2zM854 160h2v2h-2zM836 170h2v2h-2zM874 166h2v2h-2zM858 154h2v2h-2zM848 174h2v2h-2zM838 170h2v2h-2zM824 180h2v2h-2zM840 174h2v2h-2zM830 172h2v2h-2zM862 164h2v2h-2zM862 166h2v2h-2zM874 168h2v2h-2zM868 166h2v2h-2zM844 172h2v2h-2zM848 168h2v2h-2zM828 178h2v2h-2zM838 162h2v2h-2zM860 172h2v2h-2zM844 164h2v2h-2zM832 178h2v2h-2zM818 172h2v2h-2zM838 168h2v2h-2zM834 164h2v2h-2zM866 164h2v2h-2zM832 172h2v2h-2zM840 158h2v2h-2zM828 170h2v2h-2zM834 170h2v2h-2zM846 166h2v2h-2zM834 176h2v2h-2zM870 160h2v2h-2zM846 168h2v2h-2zM840 166h2v2h-2zM876 158h2v2h-2zM856 166h2v2h-2zM830 166h2v2h-2zM858 170h2v2h-2zM850 164h2v2h-2zM850 166h2v2h-2zM840 170h2v2h-2zM806 176h2v2h-2zM848 172h2v2h-2zM862 162h2v2h-2zM814 168h2v2h-2zM838 160h2v2h-2zM848 164h2v2h-2zM812 176h2v2h-2zM838 182h2v2h-2zM810 172h2v2h-2zM854 166h2v2h-2zM836 166h2v2h-2zM852 164h2v2h-2zM824 170h2v2h-2zM806 168h2v2h-2zM878 164h2v2h-2zM872 164h2v2h-2zM820 164h2v2h-2zM828 174h2v2h-2zM832 168h2v2h-2zM836 178h2v2h-2zM856 164h2v2h-2zM824 176h2v2h-2zM870 168h2v2h-2zM818 178h2v2h-2zM822 170h2v2h-2zM864 164h2v2h-2zM860 164h2v2h-2zM834 172h2v2h-2zM842 168h2v2h-2zM820 178h2v2h-2zM830 178h2v2h-2zM838 176h2v2h-2zM812 184h2v2h-2zM858 164h2v2h-2zM832 174h2v2h-2zM846 178h2v2h-2zM812 172h2v2h-2zM832 162h2v2h-2zM842 162h2v2h-2zM848 166h2v2h-2zM844 174h2v2h-2zM844 178h2v2h-2zM844 162h2v2h-2zM874 156h2v2h-2zM850 172h2v2h-2zM838 172h2v2h-2zM836 176h2v2h-2zM810 176h2v2h-2zM866 158h2v2h-2zM846 164h2v2h-2zM826 176h2v2h-2zM836 174h2v2h-2zM856 168h2v2h-2zM824 174h2v2h-2zM864 168h2v2h-2zM838 180h2v2h-2zM848 170h2v2h-2zM858 166h2v2h-2zM852 168h2v2h-2zM850 176h2v2h-2zM852 176h2v2h-2zM804 182h2v2h-2zM814 182h2v2h-2zM826 174h2v2h-2zM846 172h2v2h-2zM824 182h2v2h-2zM810 174h2v2h-2zM882 158h2v2h-2zM812 180h2v2h-2zM828 168h2v2h-2zM814 174h2v2h-2zM826 170h2v2h-2zM822 168h2v2h-2zM862 168h2v2h-2zM856 172h2v2h-2zM854 168h2v2h-2zM860 162h2v2h-2zM868 156h2v2h-2zM826 180h2v2h-2zM800 176h2v2h-2zM850 162h2v2h-2zM866 160h2v2h-2zM826 172h2v2h-2zM866 166h2v2h-2zM826 182h2v2h-2zM814 180h2v2h-2zM820 174h2v2h-2zM832 156h2v2h-2zM842 150h2v2h-2zM810 178h2v2h-2zM790 174h2v2h-2zM842 184h2v2h-2zM816 170h2v2h-2zM832 158h2v2h-2zM824 166h2v2h-2zM852 190h2v2h-2zM864 160h2v2h-2zM832 186h2v2h-2zM838 158h2v2h-2zM826 160h2v2h-2zM842 194h2v2h-2zM836 182h2v2h-2zM816 160h2v2h-2zM796 176h2v2h-2zM852 172h2v2h-2zM806 192h2v2h-2zM822 182h2v2h-2zM850 160h2v2h-2zM848 148h2v2h-2zM848 182h2v2h-2zM848 160h2v2h-2zM852 160h2v2h-2zM822 188h2v2h-2zM818 182h2v2h-2zM832 164h2v2h-2zM848 184h2v2h-2zM830 164h2v2h-2zM782 182h2v2h-2zM844 150h2v2h-2zM830 188h2v2h-2zM824 178h2v2h-2zM846 158h2v2h-2zM832 160h2v2h-2zM842 176h2v2h-2zM826 156h2v2h-2zM798 180h2v2h-2zM846 176h2v2h-2zM812 168h2v2h-2zM814 166h2v2h-2zM840 176h2v2h-2zM832 180h2v2h-2zM806 182h2v2h-2zM850 178h2v2h-2zM842 172h2v2h-2zM820 188h2v2h-2zM810 166h2v2h-2zM856 158h2v2h-2zM806 180h2v2h-2zM828 180h2v2h-2zM826 164h2v2h-2zM808 168h2v2h-2zM830 158h2v2h-2zM816 182h2v2h-2zM796 178h2v2h-2zM858 174h2v2h-2z" fill="#12a0f6" filter="url(#bd)"/>
<rect x="707" y="81" width="201" height="165" fill="none" stroke="#111" stroke-width="1.4"/>
<path d="M707.3 80.5V247" stroke="#0a0a0a" stroke-width="2" fill="none"/>
<path d="M706 247.2H909" stroke="#0a0a0a" stroke-width="2.9" fill="none"/>
<path d="M784 81V246M707 193H908" stroke="#0a0a0a" stroke-width="2.3" fill="none"/>
<path d="M709.5 246V256.5M758.7 246V256.5M807.9 246V256.5M857.1 246V256.5M906.3 246V256.5" stroke="#0a0a0a" stroke-width="2.7"/>
<path d="M724.3 246V253.3M733.0 246V253.3M739.1 246V253.3M743.9 246V253.3M747.8 246V253.3M751.1 246V253.3M753.9 246V253.3M756.4 246V253.3M773.5 246V253.3M782.2 246V253.3M788.3 246V253.3M793.1 246V253.3M797.0 246V253.3M800.3 246V253.3M803.1 246V253.3M805.6 246V253.3M822.7 246V253.3M831.4 246V253.3M837.5 246V253.3M842.3 246V253.3M846.2 246V253.3M849.5 246V253.3M852.3 246V253.3M854.8 246V253.3M871.9 246V253.3M880.6 246V253.3M886.7 246V253.3M891.5 246V253.3M895.4 246V253.3M898.7 246V253.3M901.5 246V253.3M904.0 246V253.3" stroke="#0a0a0a" stroke-width="2"/>
<path d="M697 245.2H707M697 204.3H707M697 163.4H707M697 122.5H707M697 81.6H707" stroke="#0a0a0a" stroke-width="2.8"/>
<path d="M700.7 232.9H707M700.7 225.7H707M700.7 220.6H707M700.7 216.6H707M700.7 213.4H707M700.7 210.6H707M700.7 208.3H707M700.7 206.2H707M700.7 192.0H707M700.7 184.8H707M700.7 179.7H707M700.7 175.7H707M700.7 172.5H707M700.7 169.7H707M700.7 167.4H707M700.7 165.3H707M700.7 151.1H707M700.7 143.9H707M700.7 138.8H707M700.7 134.8H707M700.7 131.6H707M700.7 128.8H707M700.7 126.5H707M700.7 124.4H707M700.7 110.2H707M700.7 103.0H707M700.7 97.9H707M700.7 93.9H707M700.7 90.7H707M700.7 87.9H707M700.7 85.6H707M700.7 83.5H707" stroke="#0a0a0a" stroke-width="1.9"/>
<text transform="translate(691.9 279.2) scale(0.94 1)" font-family='"Liberation Sans", Arial, Helvetica, sans-serif' font-size="21" fill="#1c1c28" stroke="#1c1c28" stroke-width="0.45">10<tspan dy="-8.9">0</tspan></text>
<text transform="translate(693 259.1) rotate(-90) scale(0.9 1)" font-family='"Liberation Sans", Arial, Helvetica, sans-serif' font-size="19" fill="#1c1c28" stroke="#1c1c28" stroke-width="0.45">10<tspan dy="-9.7">0</tspan></text>
<text transform="translate(741.1 279.2) scale(0.94 1)" font-family='"Liberation Sans", Arial, Helvetica, sans-serif' font-size="21" fill="#1c1c28" stroke="#1c1c28" stroke-width="0.45">10<tspan dy="-8.9">1</tspan></text>
<text transform="translate(693 218.2) rotate(-90) scale(0.9 1)" font-family='"Liberation Sans", Arial, Helvetica, sans-serif' font-size="19" fill="#1c1c28" stroke="#1c1c28" stroke-width="0.45">10<tspan dy="-9.7">1</tspan></text>
<text transform="translate(790.3 279.2) scale(0.94 1)" font-family='"Liberation Sans", Arial, Helvetica, sans-serif' font-size="21" fill="#1c1c28" stroke="#1c1c28" stroke-width="0.45">10<tspan dy="-8.9">2</tspan></text>
<text transform="translate(693 177.3) rotate(-90) scale(0.9 1)" font-family='"Liberation Sans", Arial, Helvetica, sans-serif' font-size="19" fill="#1c1c28" stroke="#1c1c28" stroke-width="0.45">10<tspan dy="-9.7">2</tspan></text>
<text transform="translate(839.5 279.2) scale(0.94 1)" font-family='"Liberation Sans", Arial, Helvetica, sans-serif' font-size="21" fill="#1c1c28" stroke="#1c1c28" stroke-width="0.45">10<tspan dy="-8.9">3</tspan></text>
<text transform="translate(693 136.4) rotate(-90) scale(0.9 1)" font-family='"Liberation Sans", Arial, Helvetica, sans-serif' font-size="19" fill="#1c1c28" stroke="#1c1c28" stroke-width="0.45">10<tspan dy="-9.7">3</tspan></text>
<text transform="translate(888.7 279.2) scale(0.94 1)" font-family='"Liberation Sans", Arial, Helvetica, sans-serif' font-size="21" fill="#1c1c28" stroke="#1c1c28" stroke-width="0.45">10<tspan dy="-8.9">4</tspan></text>
<text transform="translate(693 95.5) rotate(-90) scale(0.9 1)" font-family='"Liberation Sans", Arial, Helvetica, sans-serif' font-size="19" fill="#1c1c28" stroke="#1c1c28" stroke-width="0.45">10<tspan dy="-9.7">4</tspan></text>
<text x="805" y="296.5" text-anchor="middle" font-family='"Liberation Sans", Arial, Helvetica, sans-serif' font-size="20" fill="#1c1c28" stroke="#1c1c28" stroke-width="0.3">AV</text>
<text transform="translate(665.5 165.5) rotate(-90)" text-anchor="middle" font-family='"Liberation Sans", Arial, Helvetica, sans-serif' font-size="20" fill="#1c1c28" stroke="#1c1c28" stroke-width="0.3">PI</text>
<text x="689.3" y="55.2" font-family='"Liberation Sans", Arial, Helvetica, sans-serif' font-weight="bold" font-size="23.9" fill="#000">SCC-9 + shRNA<tspan dy="3.5" font-size="16.6">TRPM2</tspan></text>
<g font-family='"Liberation Sans", Arial, Helvetica, sans-serif' font-size="20.2" fill="#1c1c28" stroke="#1c1c28" stroke-width="0.3" text-anchor="end">
<text transform="translate(138.0 363.4) scale(0.94 1)">Quad</text>
<text transform="translate(227.4 363.4) scale(0.94 1)">% Gated</text>
<text transform="translate(138.7 391.6) scale(0.94 1)">UL</text>
<text transform="translate(229.9 391.6) scale(0.94 1)">0.78</text>
<text transform="translate(138.7 418.4) scale(0.94 1)">UR</text>
<text transform="translate(229.9 418.4) scale(0.94 1)">12.52</text>
<text transform="translate(138.7 446.5) scale(0.94 1)">LL</text>
<text transform="translate(229.9 446.5) scale(0.94 1)">83.00</text>
<text transform="translate(138.7 474.3) scale(0.94 1)">LR</text>
<text transform="translate(229.9 474.3) scale(0.94 1)">3.69</text>
</g>
<rect x="81.3" y="371.9" width="154.8" height="2.3" fill="#111"/>
<g font-family='"Liberation Sans", Arial, Helvetica, sans-serif' font-size="20.2" fill="#1c1c28" stroke="#1c1c28" stroke-width="0.3" text-anchor="end">
<text transform="translate(448.3 363.4) scale(0.94 1)">Quad</text>
<text transform="translate(537.7 363.4) scale(0.94 1)">% Gated</text>
<text transform="translate(449.0 391.6) scale(0.94 1)">UL</text>
<text transform="translate(540.2 391.6) scale(0.94 1)">0.51</text>
<text transform="translate(449.0 418.4) scale(0.94 1)">UR</text>
<text transform="translate(540.2 418.4) scale(0.94 1)">15.96</text>
<text transform="translate(449.0 446.5) scale(0.94 1)">LL</text>
<text transform="translate(540.2 446.5) scale(0.94 1)">80.13</text>
<text transform="translate(449.0 474.3) scale(0.94 1)">LR</text>
<text transform="translate(540.2 474.3) scale(0.94 1)">3.40</text>
</g>
<rect x="391.6" y="371.9" width="154.8" height="2.3" fill="#111"/>
<g font-family='"Liberation Sans", Arial, Helvetica, sans-serif' font-size="20.2" fill="#1c1c28" stroke="#1c1c28" stroke-width="0.3" text-anchor="end">
<text transform="translate(756.8 363.4) scale(0.94 1)">Quad</text>
<text transform="translate(846.2 363.4) scale(0.94 1)">% Gated</text>
<text transform="translate(757.5 391.6) scale(0.94 1)">UL</text>
<text transform="translate(848.7 391.6) scale(0.94 1)">0.65</text>
<text transform="translate(757.5 418.4) scale(0.94 1)">UR</text>
<text transform="translate(848.7 418.4) scale(0.94 1)">35.49</text>
<text transform="translate(757.5 446.5) scale(0.94 1)">LL</text>
<text transform="translate(848.7 446.5) scale(0.94 1)">52.40</text>
<text transform="translate(757.5 474.3) scale(0.94 1)">LR</text>
<text transform="translate(848.7 474.3) scale(0.94 1)">11.46</text>
</g>
<rect x="700.0999999999999" y="371.9" width="154.8" height="2.3" fill="#111"/>
<g stroke="#000" stroke-width="6" stroke-linecap="round" stroke-linejoin="round" fill="none">
<path d="M300.8 816.7V801.5M284.3 801.5H317.3" stroke-width="6"/>
<path d="M464.8 804.5V784.2M448.3 784.2H481.3" stroke-width="6"/>
<path d="M628.3 633.5V613M611.8 613H644.8" stroke-width="6"/>
<rect x="268" y="816.7" width="65" height="86.8" fill="#dedede"/>
<rect x="432.3" y="804.5" width="65" height="99.0" fill="url(#pDotL)"/>
<rect x="595.3" y="633.5" width="66" height="270.0" fill="url(#pDotD)"/>
<path d="M219.3 575V903.5"/><path d="M210 903.5H711" stroke-width="6.6"/>
<path d="M210.5 620.4H219"/>
<path d="M210.5 715.0H219"/>
<path d="M210.5 809.6H219"/>
</g>
<g font-family='"Liberation Sans", Arial, Helvetica, sans-serif' font-weight="bold" fill="#000">
<text x="205.8" y="629.7" text-anchor="end" font-size="23.5">60</text>
<text x="205.8" y="724.3" text-anchor="end" font-size="23.5">40</text>
<text x="205.8" y="818.9" text-anchor="end" font-size="23.5">20</text>
<text x="205.8" y="912.8" text-anchor="end" font-size="23.5">0</text>
<text x="363.4" y="562.3" font-size="25.95">PI-Annexin V</text>
<text transform="translate(162.5 739.5) rotate(-90)" text-anchor="middle" font-size="27.4">Apoptotic cells (%)</text>
<text x="260.2" y="964.2" font-size="27.5" stroke="#000" stroke-width="0.3">SCC-9</text>
<text x="408.3" y="949" font-size="27.4" stroke="#000" stroke-width="0.3">SCC-9+</text>
<text x="408.3" y="980.8" font-size="27.4" stroke="#000" stroke-width="0.3">shRNA<tspan dy="6.3" font-size="19.5" letter-spacing="1">Vec</tspan></text>
<text x="588.2" y="949" font-size="27.4" stroke="#000" stroke-width="0.3">SCC-9+</text>
<text x="555.5" y="980.8" font-size="27.4" stroke="#000" stroke-width="0.3">shRNA<tspan dy="6.3" font-size="19.5" letter-spacing="1.1">TRPM2</tspan></text>
</g>
<text x="631.5" y="600" text-anchor="middle" font-family='"Liberation Serif", "Times New Roman", serif' font-size="26" letter-spacing="2.2" fill="#111">**</text>
<clipPath id="cb0"><rect x="1151.3" y="90.6" width="308.70000000000005" height="53.599999999999994"/></clipPath>
<clipPath id="cb1"><rect x="1151.3" y="155.7" width="308.70000000000005" height="53.20000000000002"/></clipPath>
<clipPath id="cb2"><rect x="1151.3" y="219.6" width="308.70000000000005" height="53.400000000000006"/></clipPath>
<clipPath id="cb3"><rect x="1151.3" y="291.3" width="308.70000000000005" height="53.5"/></clipPath>
<g clip-path="url(#cb0)">
<path d="M1168.7 111.8C1171.9 108.6 1179.9 105.9 1186.3 105.0C1192.6 104.2 1200.0 105.8 1206.9 106.7C1213.8 107.5 1221.4 108.8 1227.5 110.2C1233.7 111.6 1240.2 113.1 1244.1 114.9C1247.9 116.7 1249.8 118.7 1250.7 121.1C1251.5 123.5 1253.1 127.7 1249.2 129.4C1245.4 131.1 1233.6 130.8 1227.5 131.2C1221.5 131.7 1217.9 131.2 1213.1 132.0C1208.3 132.9 1203.1 135.2 1198.7 136.2C1194.2 137.1 1190.4 138.1 1186.3 137.6C1182.1 137.2 1177.1 135.7 1173.9 133.5C1170.7 131.3 1168.1 127.8 1167.3 124.2C1166.4 120.6 1165.6 115.0 1168.7 111.8Z" fill="#1d1d1d" filter="url(#b15)" opacity="1"/>
<path d="M1272.5 116.0C1272.9 113.3 1273.6 111.6 1277.1 110.2C1280.6 108.8 1288.1 108.2 1293.6 107.7C1299.1 107.2 1303.9 107.1 1310.1 107.3C1316.3 107.5 1325.2 107.9 1330.7 108.7C1336.2 109.6 1340.5 110.5 1343.1 112.2C1345.7 114.0 1346.2 116.5 1346.2 119.0C1346.2 121.6 1345.7 125.6 1343.1 127.3C1340.5 129.0 1334.8 129.2 1330.7 129.4C1326.6 129.5 1322.1 128.7 1318.3 128.3C1314.6 128.0 1311.5 127.3 1308.0 127.3C1304.6 127.3 1301.5 128.2 1297.7 128.5C1293.9 128.9 1289.1 130.0 1285.3 129.6C1281.5 129.2 1277.1 128.5 1275.0 126.3C1272.9 124.0 1272.2 118.6 1272.5 116.0Z" fill="#2a2a2a" filter="url(#b15)" opacity="1"/>
<rect x="1367.5" y="115.3" width="76.5" height="14.7" rx="4.0" fill="#a0a0a0" filter="url(#b1)" opacity="1"/>
<rect x="1371.0" y="119.3" width="70.0" height="7.0" rx="3.0" fill="#b0b0b0" filter="url(#b1)" opacity="1"/>
<ellipse cx="1384.4" cy="122.2" rx="1.5" ry="3.4" fill="#111" transform="rotate(-15 1384.4 122.2)"/>
<circle cx="1431.8" cy="123.2" r="1.6" fill="#777" filter="url(#b05)"/>
</g>
<g clip-path="url(#cb1)">
<path d="M1164.0 183.0C1167.6 181.8 1178.1 180.0 1186.3 178.9C1194.5 177.8 1203.8 176.8 1213.1 176.2C1222.4 175.6 1235.5 174.6 1242.0 175.2C1248.5 175.8 1250.5 177.8 1252.3 179.9C1254.1 182.1 1254.1 185.8 1252.7 188.2C1251.3 190.6 1248.9 193.0 1244.1 194.4C1239.2 195.7 1231.3 196.3 1223.4 196.4C1215.5 196.6 1204.8 196.3 1196.6 195.4C1188.3 194.5 1179.2 192.8 1173.9 191.3C1168.6 189.7 1166.3 187.5 1164.6 186.1C1163.0 184.7 1160.4 184.2 1164.0 183.0Z" fill="#969696" filter="url(#b2)" opacity="1"/>
<path d="M1262.6 184.1C1263.5 182.2 1264.3 179.3 1268.8 177.9C1273.3 176.4 1280.9 176.0 1289.4 175.4C1298.0 174.8 1311.5 174.4 1320.4 174.1C1329.3 173.9 1337.9 172.9 1343.1 173.7C1348.3 174.5 1349.9 176.5 1351.4 178.9C1352.8 181.3 1353.1 185.4 1351.8 188.2C1350.4 190.9 1348.3 193.9 1343.1 195.4C1337.9 196.9 1328.7 197.1 1320.4 197.5C1312.1 197.8 1301.5 198.0 1293.6 197.5C1285.7 196.9 1277.9 195.7 1272.9 194.4C1268.0 193.0 1265.4 190.9 1263.7 189.2C1261.9 187.5 1261.8 185.9 1262.6 184.1Z" fill="#848484" filter="url(#b2)" opacity="1"/>
<path d="M1289.4 177.9C1293.9 175.9 1311.5 176.6 1320.4 176.2C1329.3 175.9 1338.3 174.8 1343.1 175.8C1347.9 176.8 1349.3 179.9 1349.3 182.0C1349.3 184.1 1347.9 187.0 1343.1 188.2C1338.3 189.4 1328.7 189.2 1320.4 189.2C1312.1 189.2 1298.7 190.1 1293.6 188.2C1288.4 186.3 1285.0 179.9 1289.4 177.9Z" fill="#6e6e6e" filter="url(#b3)" opacity="0.6"/>
<circle cx="1278.1" cy="178.3" r="1.1" fill="#333"/>
<path d="M1360.6 182.0C1361.3 178.9 1361.2 174.0 1365.8 171.7C1370.4 169.3 1379.6 168.7 1388.5 168.0C1397.4 167.2 1410.2 166.9 1419.5 167.1C1428.7 167.4 1438.7 167.8 1444.2 169.6C1449.7 171.4 1450.8 174.1 1452.5 177.9C1454.1 181.6 1455.5 188.9 1454.1 192.3C1452.7 195.7 1450.0 196.9 1444.2 198.5C1438.4 200.0 1428.1 201.0 1419.5 201.6C1410.9 202.2 1400.5 202.9 1392.6 202.2C1384.7 201.5 1377.2 199.5 1372.0 197.5C1366.8 195.5 1363.6 192.8 1361.7 190.2C1359.8 187.7 1360.0 185.1 1360.6 182.0Z" fill="#646464" filter="url(#b2)" opacity="1"/>
<path d="M1364.8 181.0C1365.5 178.5 1366.0 175.1 1369.9 173.3C1373.9 171.5 1380.2 170.7 1388.5 170.0C1396.8 169.3 1410.5 168.9 1419.5 169.2C1428.4 169.5 1437.1 170.1 1442.2 171.7C1447.2 173.3 1448.6 176.0 1450.0 178.9C1451.4 181.8 1451.7 186.7 1450.4 189.2C1449.1 191.7 1447.3 192.8 1442.2 194.0C1437.0 195.2 1427.7 196.0 1419.5 196.4C1411.2 196.8 1400.2 197.1 1392.6 196.4C1385.1 195.8 1378.5 194.2 1374.1 192.7C1369.6 191.3 1367.3 189.7 1365.8 187.8C1364.3 185.8 1364.1 183.4 1364.8 181.0Z" fill="#2a2a2a" filter="url(#b3)" opacity="1"/>
</g>
<g clip-path="url(#cb2)">
<path d="M1169.8 243.9C1170.6 240.2 1170.8 232.7 1176.0 229.9C1181.1 227.0 1192.6 227.1 1200.7 227.0C1208.8 226.8 1219.0 226.2 1224.4 229.0C1229.9 231.9 1232.5 239.3 1233.3 243.9C1234.2 248.4 1233.0 253.1 1229.6 256.3C1226.2 259.4 1218.6 261.5 1213.1 262.9C1207.6 264.3 1202.1 264.9 1196.6 264.5C1191.1 264.2 1184.4 262.9 1180.1 260.8C1175.8 258.7 1172.5 255.0 1170.8 252.1C1169.1 249.3 1168.9 247.6 1169.8 243.9Z" fill="#161616" filter="url(#b2)" opacity="1"/>
<path d="M1275.4 241.8C1276.1 238.2 1276.1 232.0 1281.2 229.4C1286.3 226.9 1297.9 226.5 1306.0 226.3C1314.0 226.2 1324.9 225.8 1329.7 228.4C1334.4 231.0 1334.3 237.4 1334.4 241.8C1334.6 246.3 1333.4 252.0 1330.7 255.2C1328.0 258.5 1323.2 260.1 1318.3 261.4C1313.5 262.8 1307.3 263.8 1301.8 263.5C1296.3 263.1 1289.4 261.4 1285.3 259.4C1281.2 257.3 1278.7 254.0 1277.1 251.1C1275.4 248.2 1274.7 245.4 1275.4 241.8Z" fill="#181818" filter="url(#b2)" opacity="1"/>
<path d="M1386.0 241.8C1386.4 238.9 1385.0 234.5 1389.5 232.5C1394.1 230.5 1405.2 230.4 1413.3 229.9C1421.3 229.3 1432.8 227.5 1438.0 229.4C1443.3 231.4 1443.9 237.9 1444.6 241.8C1445.3 245.8 1444.6 250.3 1442.2 253.2C1439.7 256.1 1435.3 257.9 1429.8 259.4C1424.3 260.8 1415.0 262.4 1409.1 262.0C1403.3 261.7 1398.3 259.3 1394.7 257.3C1391.1 255.3 1388.9 252.7 1387.5 250.1C1386.0 247.5 1385.7 244.7 1386.0 241.8Z" fill="#bcbcbc" filter="url(#b2n)" opacity="1"/>
</g>
<g clip-path="url(#cb3)">
<path d="M1161.9 309.9C1162.6 307.2 1161.9 301.7 1167.7 299.6C1173.5 297.5 1186.6 297.3 1196.6 297.1C1206.6 297.0 1219.6 297.5 1227.5 298.6C1235.5 299.7 1240.8 301.5 1244.1 303.7C1247.3 306.0 1247.8 309.1 1247.1 312.0C1246.5 314.9 1244.9 318.9 1239.9 321.3C1234.9 323.7 1225.1 325.4 1217.2 326.4C1209.3 327.5 1200.0 328.2 1192.5 327.5C1184.9 326.8 1176.6 324.2 1171.8 322.3C1167.0 320.4 1165.2 318.2 1163.6 316.1C1161.9 314.1 1161.2 312.7 1161.9 309.9Z" fill="#161616" filter="url(#b2)" opacity="1"/>
<path d="M1261.0 312.0C1261.0 308.2 1262.0 303.1 1266.7 300.6C1271.5 298.2 1280.5 297.6 1289.4 297.1C1298.4 296.6 1311.8 296.6 1320.4 297.5C1329.0 298.5 1336.1 299.9 1341.0 302.7C1346.0 305.5 1349.1 310.1 1349.9 314.1C1350.8 318.0 1349.4 323.3 1346.2 326.4C1343.0 329.6 1337.4 331.7 1330.7 333.0C1324.0 334.4 1314.2 334.9 1306.0 334.7C1297.7 334.4 1287.7 333.5 1281.2 331.6C1274.7 329.7 1270.1 326.6 1266.7 323.3C1263.4 320.1 1261.0 315.8 1261.0 312.0Z" fill="#161616" filter="url(#b2)" opacity="1"/>
<path d="M1363.7 318.2C1363.9 315.4 1365.1 311.5 1368.9 309.5C1372.7 307.5 1379.0 306.6 1386.4 306.2C1393.8 305.9 1404.7 307.0 1413.3 307.4C1421.9 307.9 1432.0 307.1 1438.0 308.9C1444.0 310.7 1447.7 314.7 1449.4 318.2C1451.1 321.6 1450.9 326.6 1448.3 329.5C1445.8 332.5 1440.4 334.5 1433.9 335.7C1427.4 336.9 1417.7 337.3 1409.1 336.7C1400.5 336.2 1389.2 334.3 1382.3 332.6C1375.4 330.9 1371.0 328.8 1367.9 326.4C1364.8 324.0 1363.6 321.0 1363.7 318.2Z" fill="#161616" filter="url(#b2)" opacity="1"/>
</g>
<rect x="1151.3" y="90.6" width="308.70000000000005" height="53.599999999999994" fill="none" stroke="#0a0a0a" stroke-width="2"/>
<rect x="1151.3" y="155.7" width="308.70000000000005" height="53.20000000000002" fill="none" stroke="#0a0a0a" stroke-width="2"/>
<rect x="1151.3" y="219.6" width="308.70000000000005" height="53.400000000000006" fill="none" stroke="#0a0a0a" stroke-width="2"/>
<rect x="1151.3" y="291.3" width="308.70000000000005" height="53.5" fill="none" stroke="#0a0a0a" stroke-width="2"/>
<g font-family='"Liberation Sans", Arial, Helvetica, sans-serif' font-weight="bold" fill="#000">
<text x="1063" y="129" font-size="22.6">TRPM2</text>
<text x="1065" y="190.7" font-size="22.6">p21</text>
<text x="1063" y="263" font-size="22.6">p53</text>
<text x="1063" y="316.5" font-size="22.6">β-actin</text>
<text x="1472" y="121.8" font-size="20.7">-171kda</text>
<text x="1472" y="187.5" font-size="20.7">-21kda</text>
<text x="1472" y="248" font-size="20.7">-53kda</text>
<text x="1472" y="323.8" font-size="20.7">-42kda</text>
<text x="1186.8" y="81.3" font-size="22.4">Con</text>
<text x="1260.6" y="81.3" font-size="22.4">shRNA<tspan dy="3.5" font-size="15.4">Vec</tspan></text>
<text x="1372" y="81.3" font-size="22.4">shRNA<tspan dy="3.5" font-size="15.4">TRPM2</tspan></text>
</g>
<g stroke="#000" stroke-linecap="round" stroke-linejoin="round" fill="none">
<rect x="1096.9" y="771.5" width="29.0" height="131.7" fill="url(#pDotM)" stroke-width="6.2"/>
<path d="M1156.2 768.9V764.3M1148.2 764.3H1164.2" stroke-width="5.2"/>
<rect x="1141.7" y="768.9" width="29.0" height="134.3" fill="url(#pDotM2)" stroke-width="5"/>
<path d="M1201.6 838.7V826.2M1193.6 826.2H1209.6" stroke-width="5.2"/>
<rect x="1186.9" y="838.7" width="29.4" height="64.5" fill="url(#pHor)" stroke-width="5"/>
<rect x="1261.3" y="771.5" width="29.0" height="131.7" fill="url(#pDotM)" stroke-width="6.2"/>
<path d="M1320.6 778.1V770.8M1312.6 770.8H1328.6" stroke-width="5.2"/>
<rect x="1306.1" y="778.1" width="29.0" height="125.1" fill="url(#pDotM2)" stroke-width="5"/>
<path d="M1366.0 672.1V649.0M1358.0 649.0H1374.0" stroke-width="5.2"/>
<rect x="1351.3" y="672.1" width="29.4" height="231.1" fill="url(#pHor)" stroke-width="5"/>
<rect x="1426.3" y="771.5" width="29.0" height="131.7" fill="url(#pDotM)" stroke-width="6.2"/>
<path d="M1485.6 770.2V758.3M1477.6 758.3H1493.6" stroke-width="5.2"/>
<rect x="1471.1" y="770.2" width="29.0" height="133.0" fill="url(#pDotM2)" stroke-width="5"/>
<path d="M1531.0 830.1V824.2M1523.0 824.2H1539.0" stroke-width="5.2"/>
<rect x="1516.3" y="830.1" width="29.4" height="73.1" fill="url(#pHor)" stroke-width="5"/>
<path d="M1074.8 575.5V903.2" stroke-width="6"/><path d="M1064.5 903.2H1569" stroke-width="6.5"/>
<path d="M1064.5 837.4H1074" stroke-width="6"/>
<path d="M1064.5 771.5H1074" stroke-width="6"/>
<path d="M1064.5 705.7H1074" stroke-width="6"/>
<path d="M1064.5 639.8H1074" stroke-width="6"/>
<path d="M1064.5 574.0H1074" stroke-width="6"/>
</g>
<g font-family='"Liberation Sans", Arial, Helvetica, sans-serif' font-weight="bold" fill="#000">
<text x="1060.5" y="911.4" text-anchor="end" font-size="22.5">0.0</text>
<text x="1060.5" y="845.6" text-anchor="end" font-size="22.5">0.5</text>
<text x="1060.5" y="779.7" text-anchor="end" font-size="22.5">1.0</text>
<text x="1060.5" y="713.9" text-anchor="end" font-size="22.5">1.5</text>
<text x="1060.5" y="648.0" text-anchor="end" font-size="22.5">2.0</text>
<text x="1060.5" y="582.2" text-anchor="end" font-size="22.5">2.5</text>
<text transform="translate(1016 738.5) rotate(-90)" text-anchor="middle" font-size="26.3">O.D. (<tspan font-style="italic">vs</tspan> <tspan font-family='"Liberation Serif", "Times New Roman", serif' font-weight="normal" font-size="27">β</tspan>-actin)</text>
<text transform="translate(1164 927.5) rotate(-45)" text-anchor="end" font-size="23.4">TRPM2</text>
<text transform="translate(1327.3 929.5) rotate(-45)" text-anchor="end" font-size="23.4">p21</text>
<text transform="translate(1493.8 928.5) rotate(-45)" text-anchor="end" font-size="23.4">p53</text>
</g>
<text x="1203.3" y="819" text-anchor="middle" font-family='"Liberation Serif", "Times New Roman", serif' font-size="26" letter-spacing="2.2" fill="#111">**</text>
<text x="1366.5" y="646" text-anchor="middle" font-family='"Liberation Serif", "Times New Roman", serif' font-size="26" letter-spacing="2.2" fill="#111">**</text>
<text x="1530.5" y="816" text-anchor="middle" font-family='"Liberation Serif", "Times New Roman", serif' font-size="26" letter-spacing="2.2" fill="#111">**</text>
<rect x="1110.3" y="488.1" width="35.1" height="18.0" fill="url(#pDotM)" stroke="#000" stroke-width="6.6" stroke-linejoin="round"/>
<rect x="1110.4" y="526.0" width="35.2" height="23.2" fill="url(#pDotM2)" stroke="#000" stroke-width="4.8" stroke-linejoin="round"/>
<rect x="1110.4" y="563.9" width="35.2" height="23.2" fill="url(#pHor)" stroke="#000" stroke-width="4.8" stroke-linejoin="round"/>
<g font-family='"Liberation Sans", Arial, Helvetica, sans-serif' font-size="27.2" fill="#000" stroke="#000" stroke-width="0.25">
<text x="1165" y="506">SCC-9</text>
<text x="1165" y="544">SCC-9 + shRAN<tspan dy="5.5" font-size="20.3" letter-spacing="0.4">Vec</tspan></text>
<text x="1165" y="581.7">SCC-9 + shRNA<tspan dy="5.5" font-size="20.3" letter-spacing="0.4">TRPM2</tspan></text>
</g>
</svg>
</body></html>
